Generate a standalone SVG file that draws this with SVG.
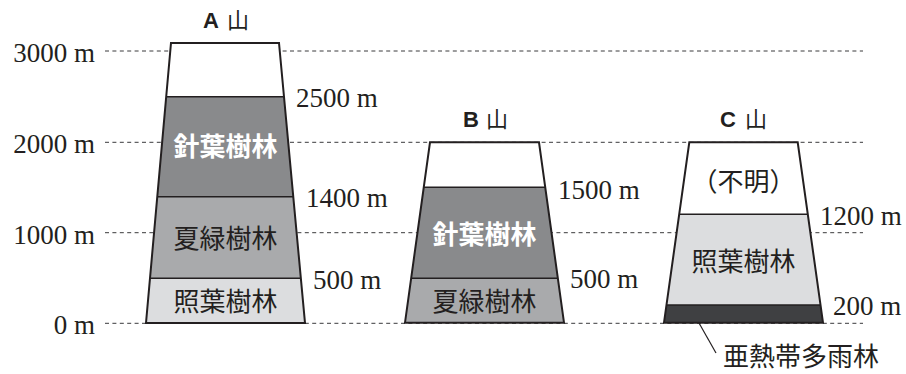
<svg xmlns="http://www.w3.org/2000/svg" width="906" height="374" viewBox="0 0 906 374">
<style>
.grid{stroke:#3a3a3c;stroke-width:1;stroke-dasharray:4 3.4;fill:none}
.num{font-family:"Liberation Serif","DejaVu Serif",serif;font-size:27px;fill:#231f20}
.jp{font-family:"Noto Sans CJK JP","Noto Sans CJK SC",sans-serif;font-size:26px;fill:#231f20;text-anchor:middle}
.jpw{font-family:"Noto Sans CJK JP","Noto Sans CJK SC",sans-serif;font-size:26px;fill:#ffffff;text-anchor:middle;font-weight:bold}
.ttl{font-family:"Liberation Sans",Arial,sans-serif;font-size:22px;font-weight:bold;fill:#231f20}
.ttlj{font-family:"Noto Sans CJK JP","Noto Sans CJK SC",sans-serif;font-size:22px;fill:#231f20}
.outline{fill:none;stroke:#231f20;stroke-width:2;stroke-linejoin:miter}
.band{stroke:#231f20;stroke-width:1.6}
.white{fill:#ffffff}
.conifer{fill:#898a8c}
.summer{fill:#a9aaac}
.laurel{fill:#dcdddf}
.trop{fill:#3f4042}
.leader{stroke:#231f20;stroke-width:1.2;fill:none}
</style>
<rect width="906" height="374" fill="#ffffff"/>
<g id="gridlines">
<line class="grid" x1="105" y1="51" x2="863" y2="51"/>
<line class="grid" x1="105" y1="142.3" x2="863" y2="142.3"/>
<line class="grid" x1="105" y1="232.7" x2="863" y2="232.7"/>
<line class="grid" x1="105" y1="323.3" x2="863" y2="323.3"/>
</g>
<g id="axis-labels">
<text class="num" x="95" y="62" text-anchor="end">3000 m</text>
<text class="num" x="95" y="153" text-anchor="end">2000 m</text>
<text class="num" x="95" y="243.5" text-anchor="end">1000 m</text>
<text class="num" x="95" y="333.5" text-anchor="end">0 m</text>
</g>
<g id="mountain-A">
<text class="ttl" x="203" y="28">A</text>
<text class="ttlj" x="227" y="28">山</text>
<polygon class="white" points="171,43 279,43 284,96.7 166.2,96.7"/>
<polygon class="conifer" points="166.2,96.7 284,96.7 293.3,196.7 157.3,196.7"/>
<polygon class="summer" points="157.3,196.7 293.3,196.7 300.8,278.3 150,278.3"/>
<polygon class="laurel" points="150,278.3 300.8,278.3 305,323 146,323"/>
<line class="band" x1="166.2" y1="96.7" x2="284" y2="96.7"/>
<line class="band" x1="157.3" y1="196.7" x2="293.3" y2="196.7"/>
<line class="band" x1="150" y1="278.3" x2="300.8" y2="278.3"/>
<polygon class="outline" points="171,43 279,43 305,323 146,323"/>
<text class="jpw" x="225.5" y="156">針葉樹林</text>
<text class="jp" x="225.5" y="248">夏緑樹林</text>
<text class="jp" x="225.5" y="311">照葉樹林</text>
<text class="num" x="296" y="107">2500 m</text>
<text class="num" x="306" y="207">1400 m</text>
<text class="num" x="313" y="289">500 m</text>
</g>
<g id="mountain-B">
<text class="ttl" x="463" y="127">B</text>
<text class="ttlj" x="486" y="127">山</text>
<polygon class="white" points="430,142.3 539,142.3 545.2,187.3 423.8,187.3"/>
<polygon class="conifer" points="423.8,187.3 545.2,187.3 557.9,278.3 411.1,278.3"/>
<polygon class="summer" points="411.1,278.3 557.9,278.3 564,322.7 405,322.7"/>
<line class="band" x1="423.8" y1="187.3" x2="545.2" y2="187.3"/>
<line class="band" x1="411.1" y1="278.3" x2="557.9" y2="278.3"/>
<polygon class="outline" points="430,142.3 539,142.3 564,322.7 405,322.7"/>
<text class="jpw" x="484.5" y="244">針葉樹林</text>
<text class="jp" x="484.5" y="311">夏緑樹林</text>
<text class="num" x="558" y="199">1500 m</text>
<text class="num" x="570" y="288">500 m</text>
</g>
<g id="mountain-C">
<text class="ttl" x="720" y="127">C</text>
<text class="ttlj" x="745" y="127">山</text>
<polygon class="white" points="689.3,142.3 797.7,142.3 807.8,214.3 679.2,214.3"/>
<polygon class="laurel" points="679.2,214.3 807.8,214.3 820.5,305 666.5,305"/>
<polygon class="trop" points="666.5,305 820.5,305 823,322.7 664,322.7"/>
<line class="band" x1="679.2" y1="214.3" x2="807.8" y2="214.3"/>
<line class="band" x1="666.5" y1="305" x2="820.5" y2="305"/>
<polygon class="outline" points="689.3,142.3 797.7,142.3 823,322.7 664,322.7"/>
<text class="jp" x="743.5" y="191">（不明）</text>
<text class="jp" x="743.5" y="271">照葉樹林</text>
<text class="num" x="820" y="225">1200 m</text>
<text class="num" x="833" y="315">200 m</text>
<text class="jp" x="801" y="366">亜熱帯多雨林</text>
</g>
<g id="connectors">
<line class="leader" x1="699" y1="323" x2="716" y2="353"/>
</g>
</svg>
